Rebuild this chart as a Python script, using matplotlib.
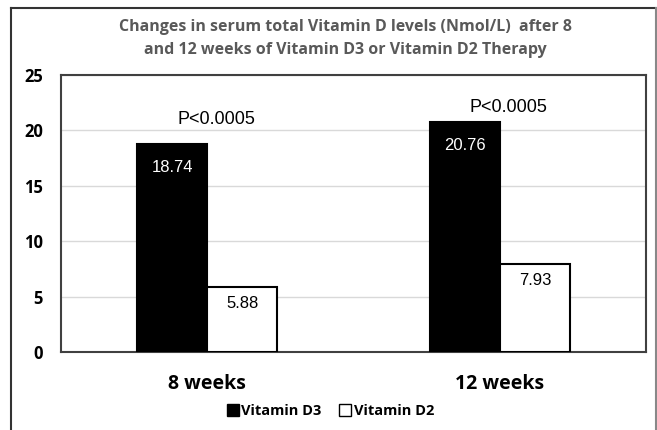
import matplotlib.pyplot as plt
import numpy as np
from matplotlib.lines import Line2D

# data
weeks = ["8 weeks", "12 weeks"]
vit_d3 = [18.74, 20.76]
vit_d2 = [5.88, 7.93]
p_labels = ["P<0.0005", "P<0.0005"]
p_heights = [21.0, 22.1]

bold_font = ["Open Sans", "DejaVu Sans"]
arial = ["Liberation Sans", "DejaVu Sans"]

fig = plt.figure(figsize=(6.57, 4.30), dpi=100)
ax = fig.add_axes([0.0928, 0.1814, 0.8905, 0.6442])

x = np.arange(len(weeks))
w = 0.24
ax.bar(x - w / 2, vit_d3, w, color="black", edgecolor="black", linewidth=1.5, zorder=3)
ax.bar(x + w / 2, vit_d2, w, color="white", edgecolor="black", linewidth=1.5, zorder=3)

# value labels inside bars
for xi, v in zip(x - w / 2, vit_d3):
    ax.annotate(f"{v:.2f}", (xi, v), xytext=(0, -17), textcoords="offset points",
                ha="center", va="center", color="white", fontsize=12, family=arial)
for xi, v in zip(x + w / 2, vit_d2):
    ax.annotate(f"{v:.2f}", (xi, v), xytext=(0, -12), textcoords="offset points",
                ha="center", va="center", color="black", fontsize=12, family=arial)

# p values
for xi, p, h in zip(x, p_labels, p_heights):
    ax.text(xi + 0.03, h, p, ha="center", va="center", fontsize=13, family=arial)

ax.set_xlim(-0.5, 1.5)
ax.set_ylim(0, 25)
ax.set_yticks([0, 5, 10, 15, 20, 25])
ax.set_xticks(x)
ax.set_xticklabels(weeks, fontsize=14, fontweight="bold", family=bold_font)
ax.tick_params(axis="x", length=0, pad=16)
ax.tick_params(axis="y", length=0, pad=13, labelsize=12)
for lab in ax.get_yticklabels():
    lab.set_fontweight("bold")
    lab.set_family(bold_font)
ax.yaxis.grid(True, color="#d9d9d9", linewidth=1, zorder=0)
for s in ax.spines.values():
    s.set_color("#404040")
    s.set_linewidth(1.5)

fig.suptitle("Changes in serum total Vitamin D levels (Nmol/L)  after 8\nand 12 weeks of Vitamin D3 or Vitamin D2 Therapy",
             x=0.526, y=0.955, fontsize=11.5, fontweight="bold", color="#595959",
             family=bold_font, linespacing=1.55)

# legend
handles = [
    Line2D([], [], marker="s", color="black", markerfacecolor="black", linestyle="none", markersize=8),
    Line2D([], [], marker="s", color="black", markerfacecolor="white", linestyle="none", markersize=8, markeredgewidth=1),
]
fig.legend(handles, ["Vitamin D3", "Vitamin D2"], loc="center", bbox_to_anchor=(0.502, 0.045),
           ncol=2, frameon=False, handletextpad=0.1, columnspacing=1.1, handlelength=1.0,
           prop={"family": bold_font, "weight": "bold", "size": 10.5})

# outer frame
fig.add_artist(Line2D([11 / 657, 11 / 657], [0, 422 / 430], transform=fig.transFigure, color="#333333", linewidth=1.5))
fig.add_artist(Line2D([11 / 657, 656 / 657], [422 / 430, 422 / 430], transform=fig.transFigure, color="#333333", linewidth=1.5))
fig.add_artist(Line2D([656 / 657, 656 / 657], [0, 422 / 430], transform=fig.transFigure, color="#888888", linewidth=1.5))

fig.savefig("out.png", dpi=100)
